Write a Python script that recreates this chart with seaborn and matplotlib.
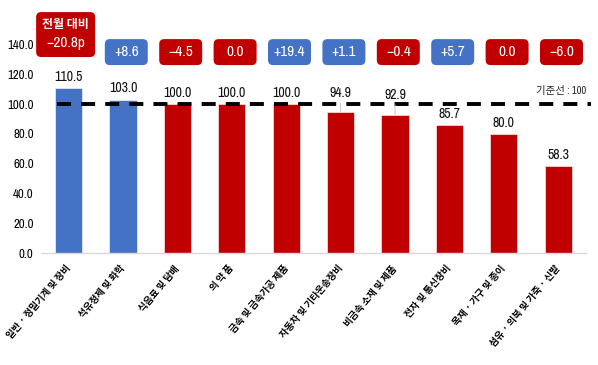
import numpy as np
import pandas as pd
import matplotlib
matplotlib.use('Agg')
import matplotlib.pyplot as plt
from matplotlib.patches import FancyBboxPatch
import seaborn as sns

# 데이터
categories = ['일반 · 정밀기계 및 장비', '석유정제 및 화학', '식음료 및 담배', '의 약 품',
              '금속 및 금속가공 제품', '자동차 및 기타운송장비', '비금속 소재 및 제품',
              '전자 및 통신장비', '목재 · 가구 및 종이', '섬유 · 의복 및 가죽 · 신발']
values = [110.5, 103.0, 100.0, 100.0, 100.0, 94.9, 92.9, 85.7, 80.0, 58.3]
changes = [-20.8, 8.6, -4.5, 0.0, 19.4, 1.1, -0.4, 5.7, 0.0, -6.0]
baseline = 100
y_ticks = [0, 20, 40, 60, 80, 100, 120, 140]

BLUE = '#4472C4'
RED = '#C00000'

sns.set_theme(style='white')
NARROW = ['Archivo Narrow', 'Barlow Condensed', 'Liberation Sans', 'Noto Sans CJK KR']
plt.rcParams['font.family'] = NARROW
KR = ['Noto Sans CJK KR', 'DejaVu Sans']

df = pd.DataFrame({'cat': categories, 'val': values})
bar_colors = [BLUE if v > baseline else RED for v in values]

fig = plt.figure(figsize=(5.98, 3.65), dpi=100)
ax = fig.add_axes([0.0702, 0.306, 0.9097, 0.694])

sns.barplot(data=df, x='cat', y='val', hue='cat', palette=bar_colors, legend=False,
            width=0.5, ax=ax, saturation=1, edgecolor='white', linewidth=0.4)

ax.set_xlim(-0.49, 9.51)
ax.set_ylim(0, 169.7)
ax.set_yticks(y_ticks)
ax.set_yticklabels([f'{t:.1f}' for t in y_ticks], fontsize=9.2, color='black')
ax.set_xlabel('')
ax.set_ylabel('')
for s in ['top', 'right', 'left']:
    ax.spines[s].set_visible(False)
ax.spines['bottom'].set_color('#d9d9d9')
ax.spines['bottom'].set_linewidth(1.0)
ax.tick_params(axis='both', length=0)
ax.tick_params(axis='y', pad=6)
ax.set_xticks(range(len(categories)))
ax.set_xticklabels(categories, rotation=50, ha='right', va='center',
                   rotation_mode='anchor', fontsize=6.9, family=KR, fontweight='bold',
                   color='black')
ax.tick_params(axis='x', pad=9.5)

# 기준선
ax.plot([-0.21, 9.6], [baseline, baseline], color='black', lw=2.8,
        dashes=(3.6, 2.6), clip_on=False, zorder=5)
ax.text(9.51, 105.5, '기준선 : 100', ha='right', va='bottom', fontsize=7.5,
        family=['Archivo Narrow', 'Noto Sans CJK KR'], color='#222222')

# 값 라벨
for i, v in enumerate(values):
    if baseline - 8 < v < baseline:
        ly = 102.7 if v > 94 else 101.7
        ax.annotate(f'{v:.1f}', xy=(i, v), xytext=(i, ly), ha='center', va='bottom',
                    fontsize=10, color='#111111', zorder=6,
                    arrowprops=dict(arrowstyle='-', color='#bfbfbf', lw=0.6,
                                    shrinkA=0, shrinkB=0))
    else:
        ax.annotate(f'{v:.1f}', xy=(i, v), xytext=(0, 3), textcoords='offset points',
                    ha='center', va='bottom', fontsize=10, color='#111111')

# 전월 대비 배지
r_x = 0.092
aspect = 3.35 / 0.092
for i, c in enumerate(changes):
    col = BLUE if c > 0 else RED
    if i == 0:
        cx, w, y0, h = -0.055, 1.085, 131.5, 30.1
    else:
        cx, w, y0, h = i + 0.06, 0.79, 126.1, 17.4
    if c > 0:
        label = f'+{c:.1f}'
    elif c < 0:
        label = f'\u2212{abs(c):.1f}'
    else:
        label = f'{c:.1f}'
    patch = FancyBboxPatch((cx - w / 2, y0), w, h,
                           boxstyle=f'round,pad=0,rounding_size={r_x}',
                           mutation_aspect=aspect, facecolor=col, edgecolor='none',
                           clip_on=False, zorder=4)
    ax.add_patch(patch)
    if i == 0:
        ax.text(cx, y0 + h * 0.72, '전월 대비', ha='center', va='center', color='white',
                fontsize=8.6, fontweight='bold', family=KR, zorder=5)
        ax.text(cx, y0 + h * 0.31, label + 'p', ha='center', va='center', color='white',
                fontsize=11, family=NARROW, zorder=5)
    else:
        ax.text(cx, y0 + h / 2, label, ha='center', va='center', color='white',
                fontsize=11, family=NARROW, zorder=5)

fig.savefig('out.png', dpi=100)
